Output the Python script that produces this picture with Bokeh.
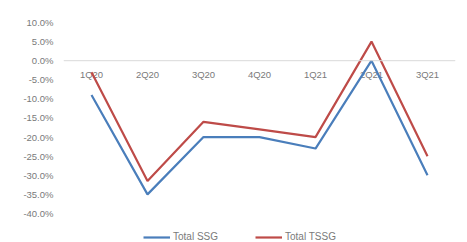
from bokeh.plotting import figure
from bokeh.models import FactorRange, Range1d, FixedTicker, NumeralTickFormatter, Span, Legend, LegendItem
from bokeh.embed import file_html
from bokeh.resources import INLINE
from bokeh.core.properties import value

quarters = ["1Q20", "2Q20", "3Q20", "4Q20", "1Q21", "2Q21", "3Q21"]
ssg = [-0.09, -0.35, -0.20, -0.20, -0.23, 0.00, -0.30]
tssg = [-0.03, -0.315, -0.16, -0.18, -0.20, 0.05, -0.25]
y_ticks = [-0.40, -0.35, -0.30, -0.25, -0.20, -0.15, -0.10, -0.05, 0.0, 0.05, 0.10]
zero_level = [0.0] * len(quarters)

FONT = "Liberation Sans"
GRAY = "#7a7a7a"

p = figure(width=459, height=242, output_backend="svg", toolbar_location=None,
           x_range=FactorRange(*quarters, range_padding=0),
           y_range=Range1d(-0.476, 0.1),
           min_border_left=63, min_border_right=4, min_border_top=22, min_border_bottom=0)
p.outline_line_color = None
p.xgrid.visible = False
p.ygrid.visible = False
p.xaxis.visible = False

ax = p.yaxis[0]
ax.ticker = FixedTicker(ticks=y_ticks)
ax.formatter = NumeralTickFormatter(format="0.0%")
ax.axis_line_color = None
ax.major_tick_line_color = None
ax.minor_tick_line_color = None
ax.major_tick_out = 0
ax.major_label_standoff = 10
ax.major_label_text_font = FONT
ax.major_label_text_font_size = "9.5px"
ax.major_label_text_color = GRAY

p.add_layout(Span(location=0, dimension="width", line_color="#d9d9d9", line_width=1))

p.text(x=quarters, y=zero_level, text=quarters, y_offset=8, text_align="center",
       text_baseline="top", text_font=value(FONT), text_font_size="9.5px", text_color=GRAY)

r1 = p.line(quarters, ssg, line_color="#4A7EBB", line_width=2.2)
r2 = p.line(quarters, tssg, line_color="#BE4B48", line_width=2.2)

legend = Legend(items=[LegendItem(label="Total SSG", renderers=[r1]),
                       LegendItem(label="Total TSSG", renderers=[r2])],
                orientation="horizontal", location=(80, 0),
                glyph_width=27, glyph_height=10, label_height=10,
                label_standoff=3, spacing=37, padding=0, margin=0,
                border_line_color=None, background_fill_alpha=0,
                label_text_font=FONT, label_text_font_size="10px", label_text_color=GRAY)
p.add_layout(legend, "center")

open("out.html", "w").write(file_html(p, INLINE))
